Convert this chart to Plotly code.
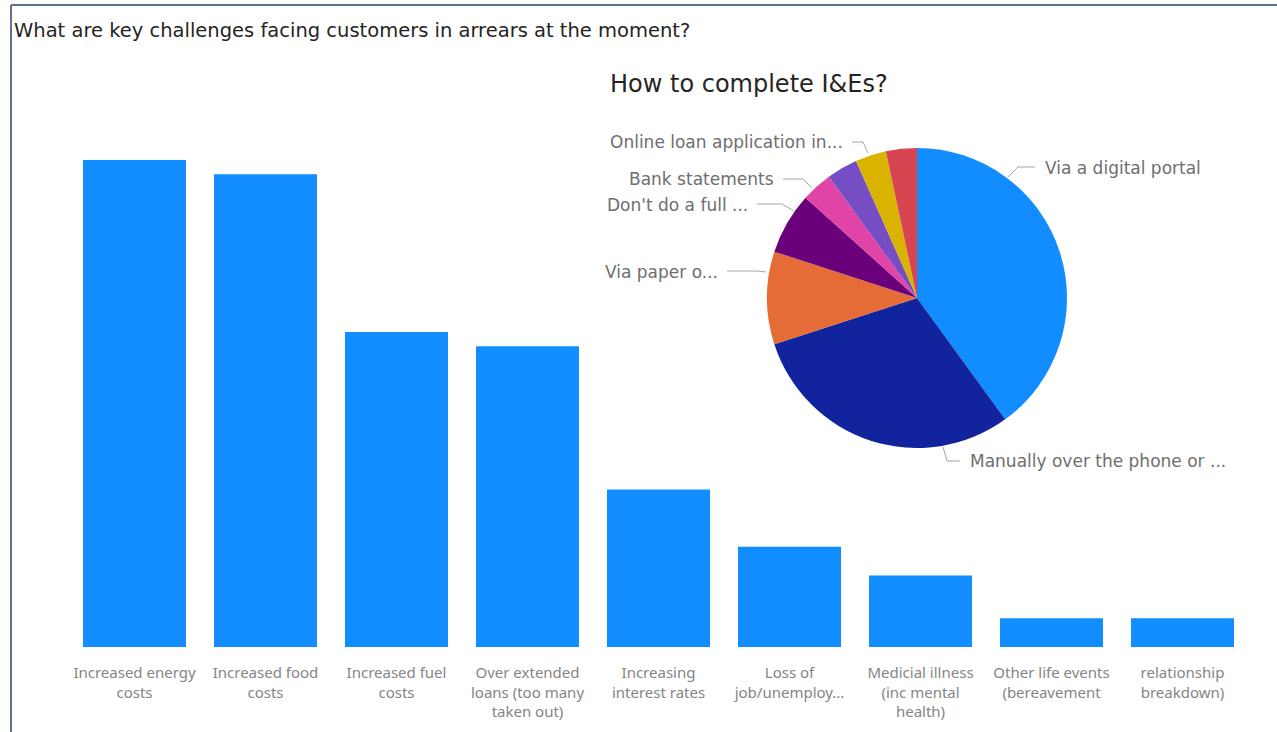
import plotly.graph_objects as go

W, H = 1277, 732

# Bar chart: key challenges facing customers in arrears
challenges = [
    "Increased energy<br>costs",
    "Increased food<br>costs",
    "Increased fuel<br>costs",
    "Over extended<br>loans (too many<br>taken out)",
    "Increasing<br>interest rates",
    "Loss of<br>job/unemploy...",
    "Medicial illness<br>(inc mental<br>health)",
    "Other life events<br>(bereavement",
    "relationship<br>breakdown)",
]
challenge_counts = [34, 33, 22, 21, 11, 7, 5, 2, 2]

# Pie chart: how I&Es are completed
methods = [
    "Via a digital portal",
    "Manually over the phone or ...",
    "Via paper o...",
    "Don't do a full ...",
    "Bank statements",
    "Other method A",
    "Online loan application in...",
    "Other method B",
]
method_counts = [12, 9, 3, 2, 1, 1, 1, 1]
method_colors = ["#118DFF", "#12239E", "#E66C37", "#6B007B",
                 "#E044A7", "#744EC2", "#D9B300", "#D64550"]

BAR_BLUE = "#118DFF"
LABEL_GREY = "#858585"


def px(x, y):
    """Convert pixel position to paper coordinates."""
    return x / W, 1 - y / H


fig = go.Figure()

fig.add_trace(go.Bar(
    x=list(range(len(challenges))),
    y=challenge_counts,
    marker=dict(color=BAR_BLUE, line=dict(width=0)),
    hoverinfo="y",
    showlegend=False,
))

x0, _ = px(69, 0)
x1, _ = px(1248, 0)
_, y_bot = px(0, 647)
_, y_top = px(0, 160)

fig.update_xaxes(
    domain=[x0, x1],
    tickmode="array",
    tickvals=list(range(len(challenges))),
    ticktext=challenges,
    tickfont=dict(family="Noto Sans", size=15, color=LABEL_GREY),
    ticklabelstandoff=15,
    showgrid=False, zeroline=False, showline=False, ticks="",
    range=[-0.5, len(challenges) - 0.5],
)
fig.update_yaxes(
    domain=[y_bot, y_top],
    range=[0, max(challenge_counts)],
    visible=False,
)

# Pie placed on the upper right
cx, cy, r = 917, 298, 150
pdx0, pdy1 = px(cx - r, cy - r)
pdx1, pdy0 = px(cx + r, cy + r)
fig.add_trace(go.Pie(
    labels=methods,
    values=method_counts,
    marker=dict(colors=method_colors, line=dict(width=0)),
    sort=False,
    direction="clockwise",
    rotation=0,
    textinfo="none",
    domain=dict(x=[pdx0, pdx1], y=[pdy0, pdy1]),
    showlegend=False,
))

# Pie labels with bent leader lines
pie_labels = [
    ("Online loan application in...", 845, 142, "right",
     [(852, 142), (863, 142), (868, 153)]),
    ("Bank statements", 776, 179, "right",
     [(783, 179), (803, 179), (812, 188)]),
    ("Don't do a full ...", 750, 205, "right",
     [(757, 204), (782, 204), (794, 211)]),
    ("Via paper o...", 720, 272, "right",
     [(727, 271), (757, 271), (766, 272)]),
    ("Via a digital portal", 1043, 168, "left",
     [(1035, 167), (1018, 167), (1008, 177)]),
    ("Manually over the phone or ...", 968, 461, "left",
     [(960, 461), (947, 461), (943, 447)]),
]

shapes = []
annotations = []
for text, tx, ty, side, pts in pie_labels:
    ax, ay = px(tx, ty)
    annotations.append(dict(
        text=text, x=ax, y=ay, xref="paper", yref="paper",
        xanchor=side, yanchor="middle", showarrow=False,
        font=dict(family="DejaVu Sans", size=17, color="#6e6e6e"),
    ))
    path = "M " + " L ".join(
        f"{px(x, y)[0]:.5f},{px(x, y)[1]:.5f}" for x, y in pts)
    shapes.append(dict(type="path", path=path, xref="paper", yref="paper",
                       line=dict(color="#a6a6a6", width=1)))

# Titles
tx_, ty_ = px(12, 30)
annotations.append(dict(
    text="What are key challenges facing customers in arrears at the moment?",
    x=tx_, y=ty_, xref="paper", yref="paper", xanchor="left", yanchor="middle",
    showarrow=False,
    font=dict(family="DejaVu Sans", size=19.5, color="#252423"),
))
px_, py_ = px(608, 84)
annotations.append(dict(
    text="How to complete I&amp;Es?",
    x=px_, y=py_, xref="paper", yref="paper", xanchor="left", yanchor="middle",
    showarrow=False,
    font=dict(family="DejaVu Sans", size=24, color="#252423"),
))

# Visual frame on the top and left edges
fx0, fy0 = px(11, 5)
fx1, fy1 = px(W, H)
shapes.append(dict(type="line", xref="paper", yref="paper",
                   x0=fx0, y0=fy0, x1=fx1, y1=fy0,
                   line=dict(color="#5f7390", width=2)))
shapes.append(dict(type="line", xref="paper", yref="paper",
                   x0=fx0, y0=fy0, x1=fx0, y1=fy1,
                   line=dict(color="#5f7390", width=2)))

fig.update_layout(
    width=W, height=H,
    margin=dict(l=0, r=0, t=0, b=0),
    paper_bgcolor="white",
    plot_bgcolor="white",
    bargap=28 / 131,
    shapes=shapes,
    annotations=annotations,
)

fig.write_html("out.html")
